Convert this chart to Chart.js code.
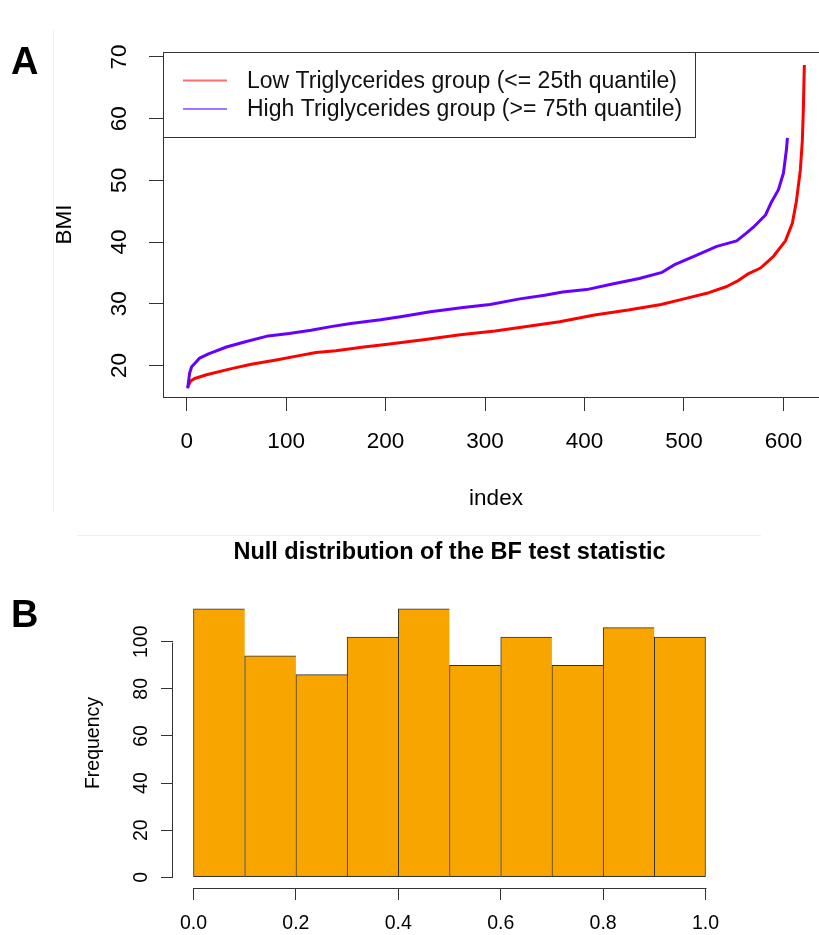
<!DOCTYPE html>
<html>
<head>
<meta charset="utf-8">
<title>BMI by triglycerides group and BF null distribution</title>
<script src="https://cdn.jsdelivr.net/npm/chart.js@4.4.1/dist/chart.umd.min.js"></script>
<style>
  html, body { margin: 0; padding: 0; background: #fff; overflow: hidden; width: 819px; height: 935px; }
  #wrapA { position: absolute; left: 0; top: 0; width: 840px; height: 520px; }
  #wrapB { position: absolute; left: 0; top: 520px; width: 819px; height: 415px; }
  .tag { position: absolute; font: bold 38px "Liberation Sans", Arial, sans-serif; line-height: 1; color: #000; }
  .rule { position: absolute; background: #efefef; }
</style>
</head>
<body>
<div class="rule" style="left:53px;top:30px;width:1px;height:482px"></div>
<div class="rule" style="left:77px;top:535px;width:684px;height:1px"></div>
<div id="wrapA"><canvas id="chartA" width="840" height="520"></canvas></div>
<div id="wrapB"><canvas id="chartB" width="819" height="415"></canvas></div>
<div class="tag" style="left:11px;top:42px">A</div>
<div class="tag" style="left:11px;top:595px">B</div>
<script>
// ---- Panel A: sorted BMI values per triglycerides group ----
const lowLabel = 'Low Triglycerides group (<= 25th quantile)';
const highLabel = 'High Triglycerides group (>= 75th quantile)';

const lowIndex = [1, 4, 8, 20, 45, 65, 90, 113, 130, 150, 178, 200, 240, 275, 310, 340, 375, 410, 444, 477,
                  500, 525, 543, 555, 565, 577, 590, 602, 609, 613, 617, 619, 620, 621];
const lowBMI   = [16.5, 17.5, 17.9, 18.5, 19.5, 20.2, 20.9, 21.6, 22.1, 22.4, 23.0, 23.4, 24.2, 25.0, 25.6, 26.3, 27.1, 28.2, 29.0, 29.9,
                  30.8, 31.8, 32.8, 33.8, 34.9, 35.8, 37.7, 40.2, 43.1, 46.6, 51.7, 56.5, 61.5, 68.7];

const highIndex = [1, 3, 5, 9, 13, 22, 40, 60, 82, 103, 125, 145, 165, 195, 215, 245, 278, 305, 335, 360,
                   378, 402, 428, 455, 478, 490, 510, 533, 553, 563, 571, 582, 588, 595, 600, 603, 604];
const highBMI   = [16.3, 18.8, 19.8, 20.5, 21.2, 21.9, 23.0, 23.9, 24.8, 25.2, 25.7, 26.3, 26.8, 27.4, 27.9, 28.7, 29.4, 29.9, 30.8, 31.4,
                   31.9, 32.3, 33.2, 34.1, 35.1, 36.3, 37.7, 39.3, 40.2, 41.5, 42.6, 44.4, 46.5, 48.5, 51.2, 55.0, 56.9];

const bmiTicks = [20, 30, 40, 50, 60, 70];
const indexTicks = [0, 100, 200, 300, 400, 500, 600];

// ---- Panel B: histogram of the BF test statistic under the null ----
const binMids = [0.05, 0.15, 0.25, 0.35, 0.45, 0.55, 0.65, 0.75, 0.85, 0.95];
const binCounts = [114, 94, 86, 102, 114, 90, 102, 90, 106, 102];
const freqTicks = [0, 20, 40, 60, 80, 100];
const statTicks = [0, 0.2, 0.4, 0.6, 0.8, 1.0];

const FONT = '"Liberation Sans", Arial, Helvetica, sans-serif';
Chart.defaults.font.family = FONT;
Chart.defaults.color = '#000';
Chart.defaults.animation = false;

const RED = '#FF0000';
const PURPLE = '#6600FF';
const AXIS = '#333333';

const toPoints = (xs, ys) => xs.map((x, i) => ({ x: x, y: ys[i] }));

// Box around the plotting region, R style
const boxPlugin = {
  id: 'plotBox',
  afterDatasetsDraw(chart) {
    const { ctx, chartArea: a } = chart;
    ctx.save();
    ctx.strokeStyle = AXIS;
    ctx.lineWidth = 1;
    ctx.strokeRect(Math.round(a.left) + 0.5, Math.round(a.top) + 0.5,
                   Math.round(a.right - a.left), Math.round(a.bottom - a.top));
    ctx.restore();
  }
};

// Boxed legend in the top-left corner of the plot
const boxedLegend = {
  id: 'boxedLegend',
  afterDraw(chart) {
    const { ctx, chartArea: a } = chart;
    const fontSize = 23;
    const rowGap = 28.5;
    const lineX0 = a.left + 20, lineX1 = a.left + 64;
    const textX = a.left + 84;
    const firstRowY = a.top + 28.5;
    ctx.save();
    ctx.font = fontSize + 'px ' + FONT;
    const sets = chart.data.datasets;
    let widest = 0;
    sets.forEach(ds => { widest = Math.max(widest, ctx.measureText(ds.label).width); });
    const boxRight = textX + widest + 13;
    const boxBottom = a.top + 85;
    ctx.fillStyle = '#fff';
    ctx.fillRect(a.left, a.top, boxRight - a.left, boxBottom - a.top);
    ctx.strokeStyle = AXIS;
    ctx.lineWidth = 1;
    ctx.strokeRect(Math.round(a.left) + 0.5, Math.round(a.top) + 0.5,
                   Math.round(boxRight - a.left), Math.round(boxBottom - a.top));
    sets.forEach((ds, i) => {
      const y = firstRowY + i * rowGap;
      ctx.strokeStyle = ds.legendColor;
      ctx.lineWidth = 2;
      ctx.beginPath();
      ctx.moveTo(lineX0, y);
      ctx.lineTo(lineX1, y);
      ctx.stroke();
      ctx.fillStyle = '#111';
      ctx.textBaseline = 'middle';
      ctx.textAlign = 'left';
      ctx.fillText(ds.label, textX, y + 1);
    });
    ctx.restore();
  }
};

new Chart(document.getElementById('chartA'), {
  type: 'line',
  data: {
    datasets: [
      { label: lowLabel, data: toPoints(lowIndex, lowBMI), borderColor: RED, legendColor: 'rgba(255,60,60,0.75)',
        borderWidth: 3, pointRadius: 0, tension: 0, fill: false, order: 2, borderJoinStyle: 'round' },
      { label: highLabel, data: toPoints(highIndex, highBMI), borderColor: PURPLE, legendColor: 'rgba(130,70,255,0.75)',
        borderWidth: 3, pointRadius: 0, tension: 0, fill: false, order: 1, borderJoinStyle: 'round' }
    ]
  },
  options: {
    responsive: false,
    layout: { padding: { left: 0, right: 11, top: 52, bottom: 0 } },
    plugins: { legend: { display: false }, tooltip: { enabled: false } },
    scales: {
      x: {
        type: 'linear', min: -23.8, max: 645.8, offset: false,
        afterBuildTicks: s => { s.ticks = indexTicks.map(v => ({ value: v })); },
        afterFit: s => { s.height = 123; },
        border: { display: false },
        grid: { drawOnChartArea: false, drawTicks: true, tickLength: 14, color: AXIS, lineWidth: 1 },
        ticks: { font: { size: 22.5 }, padding: 17, maxRotation: 0, minRotation: 0, color: '#000' },
        title: { display: true, text: 'index', font: { size: 22.5 }, color: '#000', padding: { top: 0, bottom: 8 } }
      },
      y: {
        type: 'linear', min: 14.9, max: 70.8,
        afterBuildTicks: s => { s.ticks = bmiTicks.map(v => ({ value: v })); },
        afterFit: s => { s.width = 163; },
        border: { display: false },
        grid: { drawOnChartArea: false, drawTicks: true, tickLength: 14, color: AXIS, lineWidth: 1 },
        ticks: { font: { size: 22.5 }, padding: 16.5, minRotation: 90, maxRotation: 90, crossAlign: 'center', color: '#000' },
        title: { display: true, text: 'BMI', font: { size: 22.5 }, color: '#000', padding: { top: 51, bottom: 0 } }
      }
    }
  },
  plugins: [boxPlugin, boxedLegend]
});

// Detached axis lines spanning the first to last tick, R style
const detachedAxes = {
  id: 'detachedAxes',
  afterDraw(chart) {
    const { ctx, chartArea: a, scales } = chart;
    const xs = scales.x, ys = scales.y;
    ctx.save();
    ctx.strokeStyle = AXIS;
    ctx.lineWidth = 1;
    ctx.beginPath();
    const yLine = Math.round(a.bottom) + 0.5;
    ctx.moveTo(Math.round(xs.getPixelForValue(statTicks[0])) + 0.5, yLine);
    ctx.lineTo(Math.round(xs.getPixelForValue(statTicks[statTicks.length - 1])) + 0.5, yLine);
    const xLine = Math.round(a.left) - 0.5;
    ctx.moveTo(xLine, Math.round(ys.getPixelForValue(freqTicks[0])) + 0.5);
    ctx.lineTo(xLine, Math.round(ys.getPixelForValue(freqTicks[freqTicks.length - 1])) + 0.5);
    ctx.stroke();
    ctx.restore();
  }
};

const lastBin = binMids.length - 1;
new Chart(document.getElementById('chartB'), {
  type: 'bar',
  data: {
    datasets: [{
      label: 'Frequency',
      data: toPoints(binMids, binCounts),
      backgroundColor: '#F9A500',
      borderColor: '#333333',
      borderWidth: c => ({ top: 1, bottom: 1, left: 1, right: c.dataIndex === lastBin ? 1 : 0 }),
      borderSkipped: false,
      barPercentage: 1,
      categoryPercentage: 1,
      grouped: false
    }]
  },
  options: {
    responsive: false,
    layout: { padding: { left: 0, right: 93, top: 0, bottom: 0 } },
    plugins: {
      legend: { display: false },
      tooltip: { enabled: false },
      title: {
        display: true, fullSize: false, text: 'Null distribution of the BF test statistic',
        font: { size: 23.5, weight: 'bold' }, color: '#000', padding: { top: 18.2, bottom: 31.6 }
      }
    },
    scales: {
      x: {
        type: 'linear', min: -0.04, max: 1.04, offset: false,
        afterBuildTicks: s => { s.ticks = statTicks.map(v => ({ value: v })); },
        afterFit: s => { s.height = 47; },
        border: { display: false },
        grid: { offset: false, drawOnChartArea: false, drawTicks: true, tickLength: 12, color: AXIS, lineWidth: 1 },
        ticks: { font: { size: 19.5 }, padding: 12.3, maxRotation: 0, minRotation: 0, color: '#000',
                 callback: v => Number(v).toFixed(1) }
      },
      y: {
        type: 'linear', min: -4.56, max: 118.56,
        afterBuildTicks: s => { s.ticks = freqTicks.map(v => ({ value: v })); },
        afterFit: s => { s.width = 173; },
        border: { display: false },
        grid: { drawOnChartArea: false, drawTicks: true, tickLength: 12, color: AXIS, lineWidth: 1 },
        ticks: { font: { size: 19.5 }, padding: 3.5, minRotation: 90, maxRotation: 90, crossAlign: 'center', color: '#000' },
        title: { display: true, text: 'Frequency', font: { size: 19.5 }, color: '#000', padding: { top: 81.7, bottom: 0 } }
      }
    }
  },
  plugins: [detachedAxes]
});
</script>
</body>
</html>
